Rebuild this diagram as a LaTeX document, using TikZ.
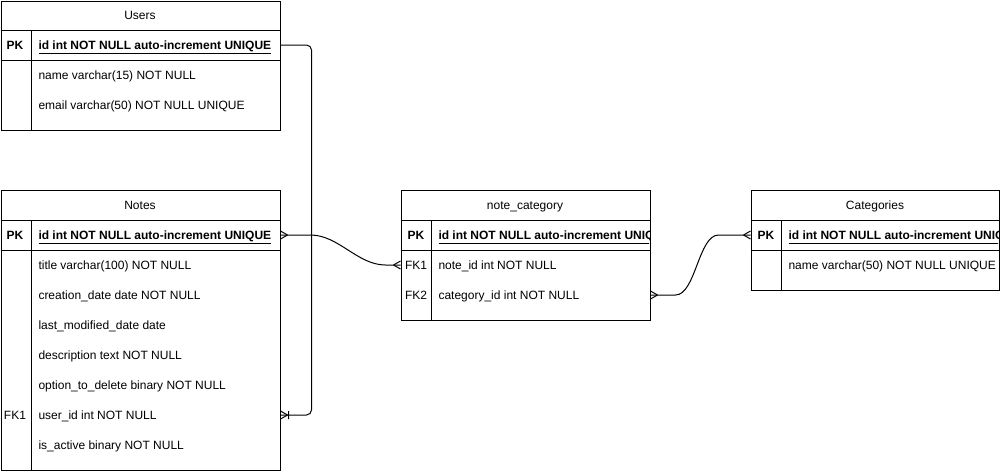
\documentclass[tikz,border=0pt]{standalone}
\usepackage{fontspec}
\setmainfont{Liberation Sans}
\usetikzlibrary{calc,decorations.markings}
\newcommand{\erfont}{\fontsize{12}{14}\selectfont}
\tikzset{
  every node/.style={text height=9pt,text depth=0pt},
  tbl/.style={draw,anchor=north west,inner sep=0pt},
  tbltitle/.style={font=\erfont},
  keycol/.style={font=\erfont},
  pkcol/.style={font=\erfont\bfseries},
  fld/.style={anchor=west,inner sep=0pt,font=\erfont},
  pkfld/.style={fld,font=\erfont\bfseries},
  crowstart/.style={postaction={decorate,decoration={markings,
    mark=at position 0 with {\draw (7pt,0) -- (0,4pt) (7pt,0) -- (0,-4pt);}}}},
  crowend/.style={postaction={decorate,decoration={markings,
    mark=at position 1 with {\draw (-7pt,0) -- (0,4pt) (-7pt,0) -- (0,-4pt);}}}},
  onemany/.style={postaction={decorate,decoration={markings,
    mark=at position 1 with {\draw (-7pt,0) -- (0,4pt) (-7pt,0) -- (0,-4pt) (-8pt,-4pt) -- (-8pt,4pt);}}}}
}

\begin{document}
\begin{tikzpicture}[x=1pt,y=1pt,line width=1pt]
\useasboundingbox (0,0) rectangle (1000,-471);

% Users
\node[tbl,text height=,text depth=,minimum width=279pt,minimum height=129pt] (users) at (0.5,-0.5) {};
\draw (0.5,-30) -- (279.5,-30) (0.5,-60) -- (279.5,-60) (31,-30) -- (31,-129.5);
\node[tbltitle] (users-title) at (140,-15) {Users};
\node[pkcol] (users-pk) at (15,-45) {PK};
\node[pkfld] (users-id) at (38,-45) {\underline{id int NOT NULL auto-increment UNIQUE}};
\node[fld] (users-name) at (38,-75) {name varchar(15) NOT NULL};
\node[fld] (users-email) at (38,-105) {email varchar(50) NOT NULL UNIQUE};

% Notes
\node[tbl,text height=,text depth=,minimum width=279pt,minimum height=280pt] (notes) at (0.5,-190) {};
\draw (0.5,-220) -- (279.5,-220) (0.5,-250) -- (279.5,-250) (31,-220) -- (31,-469.5);
\node[tbltitle] (notes-title) at (140,-205) {Notes};
\node[pkcol] (notes-pk) at (15,-235) {PK};
\node[pkfld] (notes-id) at (38,-235) {\underline{id int NOT NULL auto-increment UNIQUE}};
\node[fld] (notes-ttl) at (38,-265) {title varchar(100) NOT NULL};
\node[fld] (notes-created) at (38,-295) {creation\_date date NOT NULL};
\node[fld] (notes-modified) at (38,-325) {last\_modified\_date date};
\node[fld] (notes-descr) at (38,-355) {description text NOT NULL};
\node[fld] (notes-delete) at (38,-385) {option\_to\_delete binary NOT NULL};
\node[keycol] (notes-fk1) at (15,-415) {FK1};
\node[fld] (notes-uid) at (38,-415) {user\_id int NOT NULL};
\node[fld] (notes-active) at (38,-445) {is\_active binary NOT NULL};

% note_category
\node[tbl,text height=,text depth=,minimum width=249pt,minimum height=130pt] (nc) at (400.5,-190) {};
\draw (400.5,-220) -- (649.5,-220) (400.5,-250) -- (649.5,-250) (431,-220) -- (431,-319.5);
\node[tbltitle] (nc-title) at (525,-205) {note\_category};
\node[pkcol] (nc-pk) at (416,-235) {PK};
\begin{scope}
\clip (431,-221) rectangle (649,-249);
\node[pkfld] (nc-id) at (438,-235) {\underline{id int NOT NULL auto-increment UNIQUE}};
\end{scope}
\node[keycol] (nc-key1) at (416,-265) {FK1};
\node[fld] (nc-fk1) at (438,-265) {note\_id int NOT NULL};
\node[keycol] (nc-key2) at (416,-295) {FK2};
\node[fld] (nc-fk2) at (438,-295) {category\_id int NOT NULL};

% Categories
\node[tbl,text height=,text depth=,minimum width=248pt,minimum height=100pt] (cat) at (750.5,-190) {};
\draw (750.5,-220) -- (998.5,-220) (750.5,-250) -- (998.5,-250) (781,-220) -- (781,-289.5);
\node[tbltitle] (cat-title) at (875,-205) {Categories};
\node[pkcol] (cat-pk) at (766,-235) {PK};
\begin{scope}
\clip (781,-221) rectangle (998,-249);
\node[pkfld] (cat-id) at (788,-235) {\underline{id int NOT NULL auto-increment UNIQUE}};
\end{scope}
\node[fld] (cat-name) at (788,-265) {name varchar(50) NOT NULL UNIQUE};

% relations
\draw[rounded corners=5pt,onemany] (users.east |- users-id) -- ++(31,0) |- (notes.east |- notes-uid);
\draw[crowstart,crowend] (notes.east |- notes-id) -- ++(30,0)
  .. controls +(28,0) and +(-28,0) .. ($(nc.west |- nc-fk1)+(-15,0)$) -- (nc.west |- nc-fk1);
\draw[crowstart,crowend] (nc.east |- nc-fk2) -- ++(25,0)
  .. controls +(20,0) and +(-20,0) .. ($(cat.west |- cat-id)+(-32,0)$) -- (cat.west |- cat-id);
\end{tikzpicture}
\end{document}
